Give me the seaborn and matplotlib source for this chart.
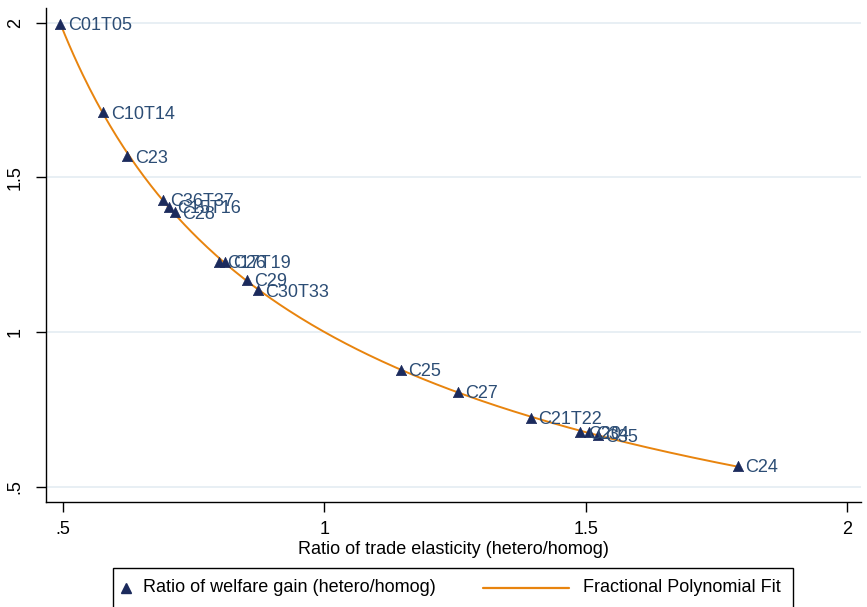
import itertools

import numpy as np
import pandas as pd
import matplotlib
matplotlib.use("Agg")
import matplotlib.pyplot as plt
from matplotlib.lines import Line2D
from matplotlib.patches import Rectangle
import seaborn as sns

# Industry codes (ISIC Rev.3) with the ratio of trade elasticity and
# the ratio of welfare gain, heterogeneous vs. homogeneous model.
industries = ["C01T05", "C10T14", "C23", "C36T37", "C15T16", "C28",
              "C17T19", "C26", "C29", "C30T33", "C25", "C27",
              "C21T22", "C20", "C34", "C35", "C24"]
elasticity_ratio = [0.494, 0.577, 0.623, 0.690, 0.703, 0.713,
                    0.799, 0.810, 0.851, 0.872, 1.146, 1.255,
                    1.395, 1.490, 1.506, 1.523, 1.791]
welfare_ratio = [1.996, 1.711, 1.569, 1.427, 1.405, 1.388,
                 1.227, 1.227, 1.169, 1.136, 0.878, 0.807,
                 0.723, 0.677, 0.677, 0.667, 0.568]

x_ticks = [0.5, 1.0, 1.5, 2.0]
x_tick_labels = [".5", "1", "1.5", "2"]
y_ticks = [0.5, 1.0, 1.5, 2.0]
y_tick_labels = [".5", "1", "1.5", "2"]

df = pd.DataFrame({"industry": industries,
                   "elasticity": elasticity_ratio,
                   "welfare": welfare_ratio})


def fp_terms(x, powers):
    """Fractional polynomial design columns (Royston-Altman convention)."""
    cols = []
    prev = None
    for p in powers:
        base = np.log(x) if p == 0 else x ** p
        if prev is not None and p == prev:
            base = base * np.log(x)
        cols.append(base)
        prev = p
    return np.column_stack([np.ones_like(x)] + cols)


def fp2_fit(x, y):
    powers_set = [-2, -1, -0.5, 0, 0.5, 1, 2, 3]
    best = None
    for p1, p2 in itertools.combinations_with_replacement(powers_set, 2):
        X = fp_terms(x, (p1, p2))
        beta, *_ = np.linalg.lstsq(X, y, rcond=None)
        rss = np.sum((y - X @ beta) ** 2)
        if best is None or rss < best[0]:
            best = (rss, (p1, p2), beta)
    return best[1], best[2]


x_arr = df["elasticity"].to_numpy()
y_arr = df["welfare"].to_numpy()
powers, beta = fp2_fit(x_arr, y_arr)
grid = np.linspace(x_arr.min(), x_arr.max(), 300)
fit_df = pd.DataFrame({"elasticity": grid,
                       "welfare": fp_terms(grid, powers) @ beta})

sns.set_theme(style="white")
plt.rcParams["font.family"] = ["Liberation Sans", "DejaVu Sans"]

MARKER = "#1b2a5c"
LABEL = "#2c4d75"
ORANGE = "#e8840e"
GRID = "#e4ecf2"
FS = 13

W, H = 867, 607
fig = plt.figure(figsize=(W / 100, H / 100), dpi=100)
ax = fig.add_axes([46 / W, 1 - 502 / H, (861 - 46) / W, (502 - 8) / H])

for yv in y_ticks:
    ax.axhline(yv, color=GRID, lw=1.2, zorder=0)

sns.lineplot(data=fit_df, x="elasticity", y="welfare", ax=ax,
             color=ORANGE, lw=1.4, zorder=2, legend=False)
sns.scatterplot(data=df, x="elasticity", y="welfare", ax=ax,
                marker="^", s=55, color=MARKER, edgecolor=MARKER,
                linewidth=0.5, zorder=3, legend=False)

for _, row in df.iterrows():
    ax.annotate(row["industry"], (row["elasticity"], row["welfare"]),
                xytext=(5.5, -1.5), textcoords="offset points",
                ha="left", va="center", fontsize=FS, color=LABEL,
                zorder=4)

ax.set_xlim(0.467, 2.027)
ax.set_ylim(0.451, 2.047)
ax.set_xticks(x_ticks)
ax.set_xticklabels(x_tick_labels)
ax.set_yticks(y_ticks)
ax.set_yticklabels(y_tick_labels, rotation=90, va="center")
ax.tick_params(axis="both", which="major", length=7, width=1,
               color="black", labelsize=FS, labelcolor="black",
               direction="out", bottom=True, left=True)
ax.tick_params(axis="x", pad=7)
ax.tick_params(axis="y", pad=9)

for side in ["top", "right"]:
    ax.spines[side].set_visible(False)
for side in ["left", "bottom"]:
    ax.spines[side].set_color("black")
    ax.spines[side].set_linewidth(1.0)

ax.set_xlabel("Ratio of trade elasticity (hetero/homog)", fontsize=FS,
              color="black", labelpad=2)
ax.set_ylabel("")

# Legend box below the plot, laid out in figure pixel coordinates.
def fx(px):
    return px / W


def fy(py):
    return 1 - py / H


fig.add_artist(Rectangle((fx(113), fy(612)), fx(793) - fx(113),
                         fy(568) - fy(612), transform=fig.transFigure,
                         facecolor="white", edgecolor="black", lw=1.0))
fig.add_artist(Line2D([fx(126)], [fy(588)], marker="^", ls="none",
                      color=MARKER, markersize=7.5,
                      transform=fig.transFigure))
fig.text(fx(143), fy(588), "Ratio of welfare gain (hetero/homog)",
         fontsize=FS, color="black", ha="left", va="center")
fig.add_artist(Line2D([fx(483), fx(569)], [fy(588), fy(588)],
                      color=ORANGE, lw=1.6, transform=fig.transFigure))
fig.text(fx(583), fy(588), "Fractional Polynomial Fit",
         fontsize=FS, color="black", ha="left", va="center")

fig.savefig("out.png", dpi=100)
